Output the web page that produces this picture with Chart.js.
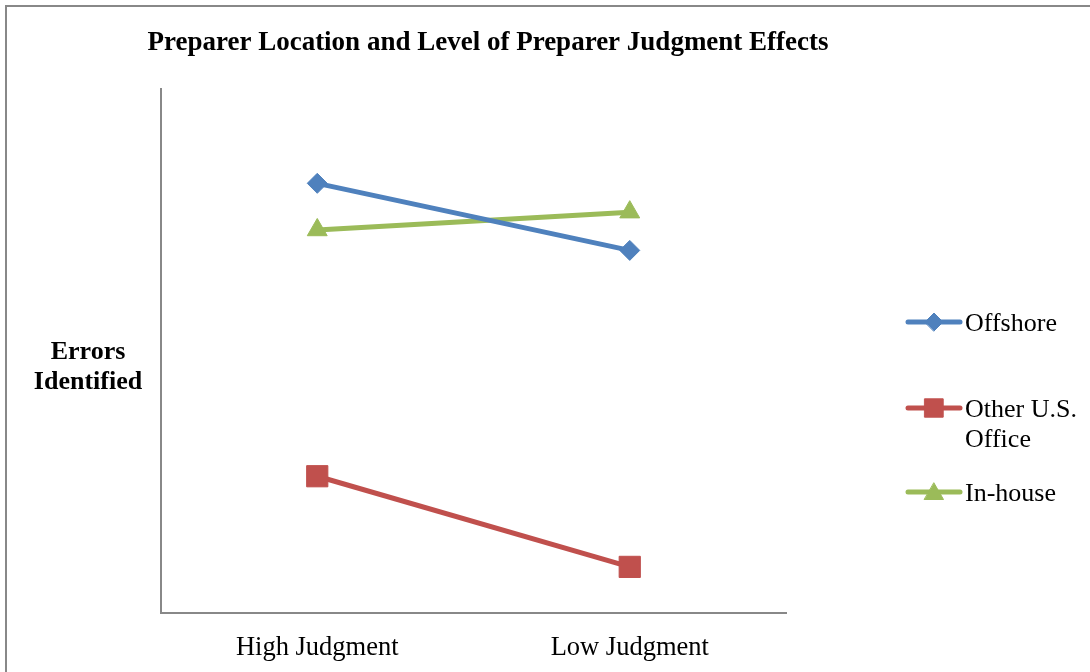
<!DOCTYPE html>
<html>
<head>
    <meta charset="utf-8">
    <title>Preparer Location and Level of Preparer Judgment Effects</title>
    <script src="https://cdn.jsdelivr.net/npm/chart.js"></script>
    <style>
        body { margin: 0; background: #fff; }
        .wrap { position: relative; width: 1090px; height: 672px; }
    </style>
</head>
<body>
    <div class="wrap">
        <canvas id="judgmentChart" width="1090" height="672"></canvas>
    </div>
    <script>
        // data (no y scale shown, 0-100 arbitrary units)
        var categories = ['High Judgment', 'Low Judgment'];
        var offshore = [82.0, 69.2];
        var otherUS = [26.1, 8.8];
        var inHouse = [73.1, 76.5];

        var seriesNames = ['Offshore', 'Other U.S. Office', 'In-house'];
        var legendLines = [['Offshore'], ['Other U.S.', 'Office'], ['In-house']];
        var chartTitle = 'Preparer Location and Level of Preparer Judgment Effects';
        var yTitle = ['Errors', 'Identified'];

        var serif = '"Liberation Serif", "Times New Roman", serif';

        // frame, title, y title and legend are drawn by hand
        var extras = {
            id: 'extras',
            afterDraw: function(chart) {
                var ctx = chart.ctx;
                ctx.save();
                ctx.strokeStyle = '#888888';
                ctx.lineWidth = 2;
                ctx.beginPath();
                ctx.moveTo(6, 672);
                ctx.lineTo(6, 6);
                ctx.lineTo(1090, 6);
                ctx.stroke();

                ctx.fillStyle = '#000';
                ctx.textAlign = 'center';
                ctx.textBaseline = 'alphabetic';
                ctx.font = 'bold 27px ' + serif;
                ctx.fillText(chartTitle, 488, 50);
                ctx.font = 'bold 26px ' + serif;
                ctx.fillText(yTitle[0], 88, 359);
                ctx.fillText(yTitle[1], 88, 389);

                var rows = [322, 408, 492];
                ctx.font = '26px ' + serif;
                ctx.textAlign = 'left';
                chart.data.datasets.forEach(function(ds, i) {
                    var y = rows[i];
                    ctx.strokeStyle = ds.borderColor;
                    ctx.fillStyle = ds.borderColor;
                    ctx.lineWidth = 5;
                    ctx.lineCap = 'round';
                    ctx.beginPath();
                    ctx.moveTo(908, y);
                    ctx.lineTo(960, y);
                    ctx.stroke();
                    ctx.lineWidth = 1;
                    Chart.helpers.drawPoint(ctx, {
                        pointStyle: ds.pointStyle,
                        radius: ds.legendRadius,
                        borderWidth: 1
                    }, 934, ds.pointStyle === 'triangle' ? y + 2 : y);
                    ctx.fillStyle = '#000';
                    legendLines[i].forEach(function(t, k) {
                        ctx.fillText(t, 965, y + 9 + k * 30);
                    });
                });
                ctx.restore();
            }
        };

        function series(label, data, color, style, r, lr) {
            return {
                label: label,
                data: data,
                borderColor: color,
                backgroundColor: color,
                pointBackgroundColor: color,
                pointBorderColor: color,
                borderWidth: 5,
                pointStyle: style,
                pointRadius: r,
                pointHoverRadius: r,
                pointBorderWidth: 1,
                legendRadius: lr,
                tension: 0
            };
        }

        var ctx = document.getElementById('judgmentChart').getContext('2d');
        var judgmentChart = new Chart(ctx, {
            type: 'line',
            data: {
                labels: categories,
                datasets: [
                    series(seriesNames[0], offshore, '#4F81BD', 'rectRot', 10, 9),
                    series(seriesNames[1], otherUS, '#C0504D', 'rect', 15, 13),
                    series(seriesNames[2], inHouse, '#9BBB59', 'triangle', 11.5, 11)
                ]
            },
            options: {
                responsive: false,
                animation: false,
                layout: {
                    padding: { left: 161, right: 304, top: 89, bottom: 0 }
                },
                plugins: {
                    legend: { display: false },
                    title: { display: false },
                    tooltip: { enabled: false }
                },
                scales: {
                    x: {
                        offset: true,
                        grid: { display: false, drawTicks: false },
                        border: { color: '#888888', width: 2 },
                        ticks: {
                            color: '#000',
                            padding: 19,
                            font: { family: serif, size: 26.5 }
                        },
                        afterFit: function(scale) { scale.height = 59; }
                    },
                    y: {
                        min: 0,
                        max: 100,
                        grid: { display: false, drawTicks: false },
                        border: { color: '#888888', width: 2 },
                        ticks: { display: false }
                    }
                }
            },
            plugins: [extras]
        });
    </script>
</body>
</html>
